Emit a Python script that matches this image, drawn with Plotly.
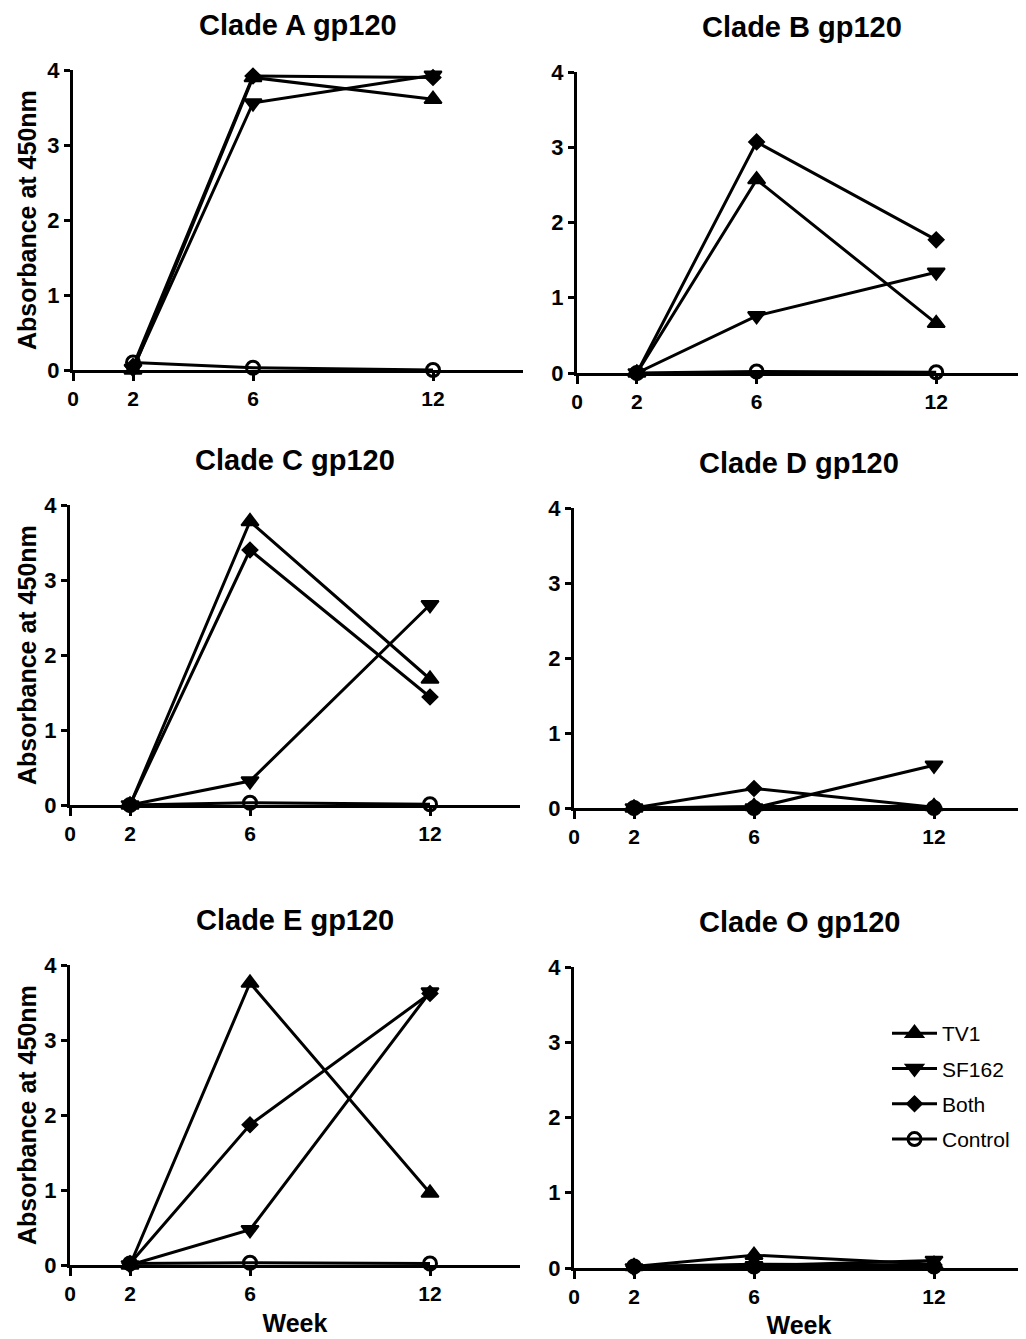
import plotly.graph_objects as go

weeks = [2, 6, 12]
titles = ["Clade A gp120", "Clade B gp120", "Clade C gp120",
          "Clade D gp120", "Clade E gp120", "Clade O gp120"]
series_names = ["TV1", "SF162", "Both", "Control"]
x_tickvals = [0, 2, 6, 12]
y_tickvals = [0, 1, 2, 3, 4]
y_title = "Absorbance at 450nm"
x_title = "Week"

# values per panel (A, B, C, D, E, O) at weeks 2, 6, 12
tv1 = [[0.00, 3.90, 3.61], [0.00, 2.57, 0.66], [0.00, 3.78, 1.68],
       [0.00, 0.02, 0.02], [0.00, 3.76, 0.96], [0.02, 0.17, 0.05]]
sf162 = [[0.02, 3.56, 3.93], [0.00, 0.76, 1.34], [0.00, 0.32, 2.67],
         [0.00, 0.00, 0.57], [0.00, 0.47, 3.64], [0.00, 0.03, 0.10]]
both = [[0.05, 3.92, 3.90], [0.00, 3.07, 1.77], [0.00, 3.40, 1.44],
        [0.00, 0.26, 0.01], [0.02, 1.87, 3.62], [0.02, 0.05, 0.04]]
control = [[0.10, 0.03, 0.00], [0.00, 0.02, 0.01], [0.00, 0.03, 0.01],
           [0.00, 0.00, 0.00], [0.02, 0.03, 0.02], [0.02, 0.02, 0.02]]

W, H = 1018, 1331
FONT = "Liberation Sans, Arial, sans-serif"

# panel pixel boxes in figure coords: (x_left, x_right, y_top, y_bottom)
boxes = [(65, 515, 62, 362), (569, 1018, 64, 365),
         (62, 512, 497, 797), (566, 1016, 500, 800),
         (62, 512, 957, 1257), (566, 1016, 959, 1260)]

styles = [
    dict(symbol="triangle-up", size=15, color="black", line=dict(width=2, color="black")),
    dict(symbol="triangle-down", size=15, color="black", line=dict(width=2, color="black")),
    dict(symbol="diamond", size=12, color="black", line=dict(width=1.5, color="black")),
    dict(symbol="circle-open", size=13, color="black", line=dict(width=3, color="black")),
]

fig = go.Figure()
data_sets = [tv1, sf162, both, control]

for i in range(6):
    xa = "x" if i == 0 else f"x{i+1}"
    ya = "y" if i == 0 else f"y{i+1}"
    for name, ds, st in zip(series_names, data_sets, styles):
        fig.add_trace(go.Scatter(
            x=weeks, y=ds[i], mode="lines+markers", name=name,
            xaxis=xa, yaxis=ya, cliponaxis=False,
            line=dict(color="black", width=3),
            marker=st, showlegend=(i == 5), legendgroup=name,
        ))

layout = dict(
    width=W, height=H, paper_bgcolor="white", plot_bgcolor="white",
    margin=dict(l=0, r=0, t=0, b=0),
    font=dict(family=FONT, color="black"),
    legend=dict(x=879 / W, y=1 - 1005 / H, xanchor="left", yanchor="top",
                font=dict(family=FONT, size=21, color="black"),
                bgcolor="rgba(0,0,0,0)", tracegroupgap=5, itemwidth=45),
    annotations=[],
)

for i, (xl, xr, yt, yb) in enumerate(boxes):
    xk = "xaxis" if i == 0 else f"xaxis{i+1}"
    yk = "yaxis" if i == 0 else f"yaxis{i+1}"
    ya = "y" if i == 0 else f"y{i+1}"
    xa = "x" if i == 0 else f"x{i+1}"
    layout[xk] = dict(
        domain=[xl / W, xr / W], range=[0, 15], anchor=ya,
        tickvals=x_tickvals, ticktext=[str(v) for v in x_tickvals],
        ticks="outside", ticklen=8, tickwidth=3, tickcolor="black",
        showline=True, linewidth=3, linecolor="black",
        showgrid=False, zeroline=False, automargin=False,
        tickfont=dict(family=FONT, size=21, color="black", weight="bold"),
        title=dict(text=x_title if i >= 4 else "", standoff=11,
                   font=dict(family=FONT, size=25, color="black", weight="bold")),
    )
    layout[yk] = dict(
        domain=[1 - yb / H, 1 - yt / H], range=[0, 4], anchor=xa,
        tickvals=y_tickvals, ticks="outside", ticklen=6, tickwidth=3,
        tickcolor="black", showline=True, linewidth=3, linecolor="black",
        showgrid=False, zeroline=False, automargin=False,
        tickfont=dict(family=FONT, size=22, color="black", weight="bold"),
    )
    layout["annotations"].append(dict(
        text=titles[i], xref="paper", yref="paper",
        x=(xl + xr) / 2 / W, y=1 - (yt - 45) / H,
        xanchor="center", yanchor="middle", showarrow=False,
        font=dict(family=FONT, size=29, color="black", weight="bold"),
    ))
    if i % 2 == 0:
        layout["annotations"].append(dict(
            text=y_title, xref="paper", yref="paper", textangle=-90,
            x=19 / W, y=1 - (yt + yb) / 2 / H,
            xanchor="center", yanchor="middle", showarrow=False,
            font=dict(family=FONT, size=25, color="black", weight="bold"),
        ))

fig.update_layout(layout)
fig.write_html("out.html")
